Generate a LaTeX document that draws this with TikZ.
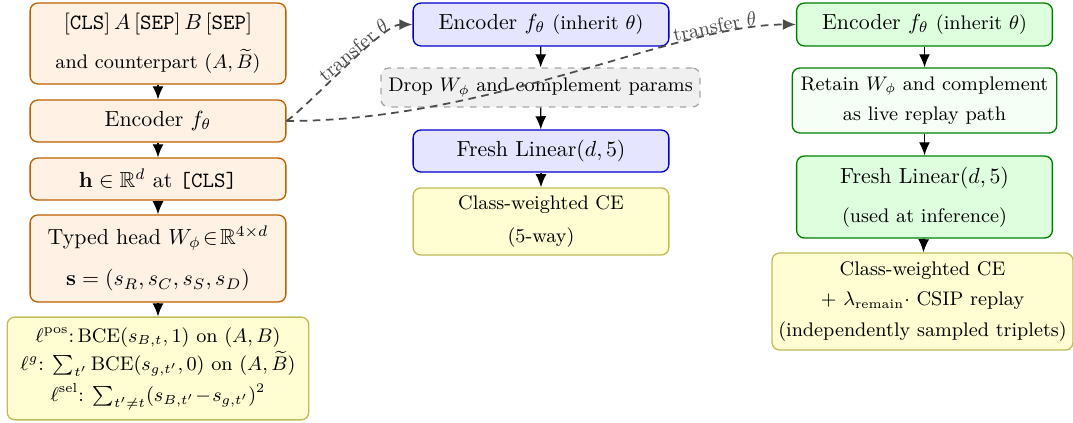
\documentclass[tikz,border=0pt]{standalone}
\usepackage{amsmath,amssymb}
\usepackage{tikz}
\usetikzlibrary{arrows.meta}

\tikzset{
  blk/.style={rounded corners=3.5pt, line width=0.6pt, align=center, inner sep=2pt},
  inblk/.style={blk, draw=orange!75!black, fill=orange!10},
  blublk/.style={blk, draw=blue!80!black, fill=blue!10},
  grnblk/.style={blk, draw=green!50!black, fill=green!13},
  palegrn/.style={blk, draw=green!50!black, fill=green!4},
  lossblk/.style={blk, draw=olive!55, fill=yellow!18},
  dropblk/.style={blk, draw=black!35, dashed, fill=black!6},
  flow/.style={-{Latex[length=6pt,width=5pt]}, line width=0.6pt},
  xfer/.style={-{Latex[length=6pt,width=5pt]}, black!70, line width=0.8pt, dash pattern=on 3.5pt off 2.5pt}
}

\begin{document}
\begin{tikzpicture}[x=0.4575pt,y=-0.4575pt]
    \useasboundingbox (0,0) rectangle (1073,422);

    % left column: CSIP pre-training
    \node[inblk, minimum width=117pt, minimum height=37pt] (inp) at (158,43.5)
    {$[\texttt{CLS}]\,A\,[\texttt{SEP}]\,B\,[\texttt{SEP}]$\\[6pt]
      {\small and counterpart $(A,\widetilde{B})$}};
    \node[inblk, minimum width=117pt, minimum height=19.2pt] (enc) at (158,121)
    {Encoder $f_\theta$};
    \node[inblk, minimum width=117pt, minimum height=19.2pt] (hcls) at (158,179)
    {$\mathbf{h}\in\mathbb{R}^d$ at \texttt{[CLS]}};
    \node[inblk, minimum width=117pt, minimum height=39.8pt] (head) at (158,258.5)
    {Typed head $W_\phi\!\in\!\mathbb{R}^{4\times d}$\\[7pt]
      $\mathbf{s}=(s_R,s_C,s_S,s_D)$};
    \node[lossblk, minimum width=138pt, minimum height=47pt, inner sep=1pt] (loss) at (158,368.5)
    {\small $\ell^{\mathrm{pos}}$:\,$\mathrm{BCE}(s_{B,t},1)$ on $(A,B)$\\[1pt]
      \small $\ell^{g}$: $\sum_{t'}\mathrm{BCE}(s_{g,t'},0)$ on $(A,\widetilde{B})$\\[2pt]
      \small $\ell^{\mathrm{sel}}$: $\sum_{t'\neq t}(s_{B,t'}\!-\!s_{g,t'})^2$};

    \draw[flow] (inp) -- (enc);
    \draw[flow] (enc) -- (hcls);
    \draw[flow] (hcls) -- (head);
    \draw[flow] (head) -- (loss);

    % middle column: fine-tuning, head dropped
    \node[blublk, minimum width=117pt, minimum height=19.6pt] (encm) at (541,24.5)
    {Encoder $f_\theta$ {\small (inherit $\theta$)}};
    \node[dropblk, minimum width=146pt, minimum height=17.8pt] (drop) at (540.5,87.5)
    {\small Drop $W_\phi$ and complement params};
    \node[blublk, minimum width=117pt, minimum height=19.2pt] (linm) at (541,151)
    {Fresh Linear$(d,5)$};
    \node[lossblk, minimum width=117pt, minimum height=30.7pt] (cem) at (541,221.5)
    {\small Class-weighted CE\\[3pt] \small (5-way)};

    \draw[flow] (encm) -- (drop);
    \draw[flow] (drop) -- (linm);
    \draw[flow] (linm) -- (cem);

    % right column: fine-tuning, head kept for replay
    \node[grnblk, minimum width=117pt, minimum height=19.6pt] (encr) at (924.5,24.5)
    {Encoder $f_\theta$ {\small (inherit $\theta$)}};
    \node[palegrn, minimum width=121pt, minimum height=29.7pt] (keep) at (924.5,100.5)
    {\small Retain $W_\phi$ and complement\\[2pt] \small as live replay path};
    \node[grnblk, minimum width=117pt, minimum height=37.5pt] (linr) at (924.5,197)
    {Fresh Linear$(d,5)$\\[6pt] {\small (used at inference)}};
    \node[lossblk, minimum width=137.7pt, minimum height=44.4pt] (cer) at (922.5,301.5)
    {\small Class-weighted CE\\[2pt]
      \small $+\ \lambda_{\text{remain}}\cdot$ CSIP replay\\[2pt]
      \small (independently sampled triplets)};

    \draw[flow] (encr) -- (keep);
    \draw[flow] (keep) -- (linr);
    \draw[flow] (linr) -- (cer);

    % parameter transfer
    \draw[xfer] (enc.east) .. controls +(23,-16) and +(-30,0) ..
    node[pos=0.58, sloped, above, inner sep=0.3pt, text=black!70] {\small transfer $\theta$} (encm.west);
    \draw[xfer] (enc.east) .. controls +(204,0) and +(-120,0) ..
    node[pos=0.8, sloped, above, inner sep=0.3pt, text=black!70] {\small transfer $\theta$} (encr.west);
\end{tikzpicture}
\end{document}
